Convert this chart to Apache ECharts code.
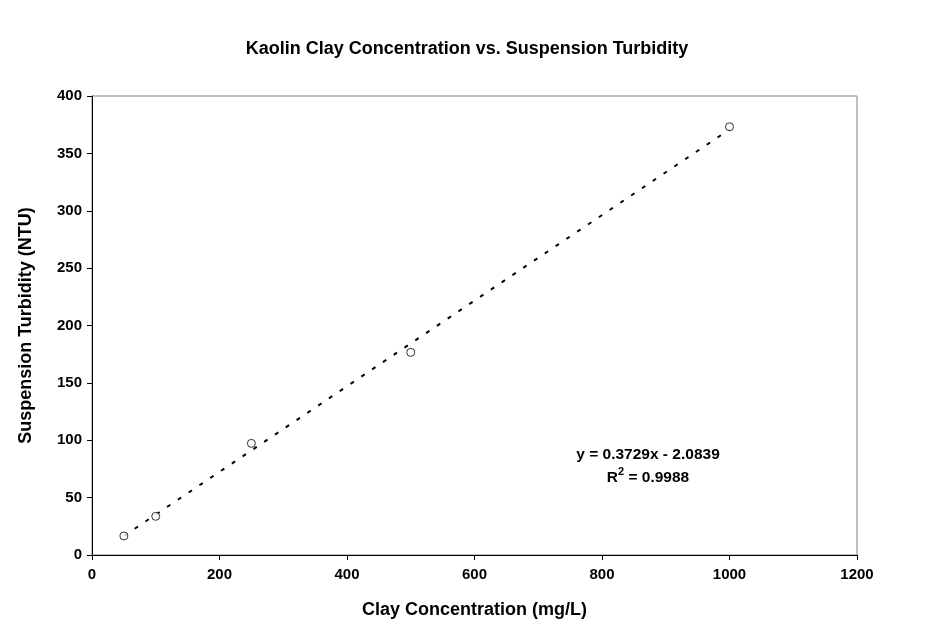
<!DOCTYPE html>
<html>
<head>
<meta charset="utf-8">
<script src="https://cdn.jsdelivr.net/npm/echarts@6/dist/echarts.min.js"></script>
<style>
html,body{margin:0;padding:0;background:#fff;}
#c{width:934px;height:641px;}
</style>
</head>
<body>
<div id="c"></div>
<script>
var clayConc = [50, 100, 250, 500, 1000];
var turbidity = [16.6, 33.7, 97.3, 176.6, 373.2];
var trendSlope = 0.3729;
var trendIntercept = -2.0839;
var trendRange = [50, 1000];
var equationLines = ['y = 0.3729x - 2.0839', 'R{sup|2} = 0.9988'];

var pts = clayConc.map(function(x, i){ return [x, turbidity[i]]; });
var trend = trendRange.map(function(x){ return [x, trendSlope * x + trendIntercept]; });

var chart = echarts.init(document.getElementById('c'));
var F = '"Liberation Sans", Arial, sans-serif';
chart.setOption({
  animation: false,
  backgroundColor: '#fff',
  title: {
    text: 'Kaolin Clay Concentration vs. Suspension Turbidity',
    left: 'center', top: 35,
    textStyle: {fontFamily: F, fontSize: 18, fontWeight: 'bold', color: '#000'}
  },
  grid: {left: 92, right: 77, top: 96, bottom: 86, show: true, borderColor: '#808080', borderWidth: 1},
  xAxis: {
    type: 'value', min: 0, max: 1200, interval: 200,
    name: 'Clay Concentration (mg/L)', nameLocation: 'middle', nameGap: 46,
    nameTextStyle: {fontFamily: F, fontSize: 18, fontWeight: 'bold', color: '#000'},
    axisLine: {show: true, onZero: false, lineStyle: {color: '#000', width: 1}},
    axisTick: {show: true, length: 5, lineStyle: {color: '#000'}},
    axisLabel: {fontFamily: F, fontSize: 15, fontWeight: 'bold', color: '#000', margin: 12,
      formatter: function(v){ return String(v); }},
    splitLine: {show: false}
  },
  yAxis: {
    type: 'value', min: 0, max: 400, interval: 50,
    name: 'Suspension Turbidity (NTU)', nameLocation: 'middle', nameGap: 57,
    nameTextStyle: {fontFamily: F, fontSize: 18, fontWeight: 'bold', color: '#000'},
    axisLine: {show: true, lineStyle: {color: '#000', width: 1}},
    axisTick: {show: true, length: 5, lineStyle: {color: '#000'}},
    axisLabel: {fontFamily: F, fontSize: 15, fontWeight: 'bold', color: '#000', margin: 10,
      formatter: function(v){ return String(v); }},
    splitLine: {show: false}
  },
  graphic: [{
    type: 'text', x: 648, y: 443,
    style: {
      text: equationLines.join('\n'),
      align: 'center',
      fontFamily: F, fontSize: 15.5, fontWeight: 'bold', fill: '#000', lineHeight: 23,
      rich: {sup: {fontSize: 11, fontWeight: 'bold', verticalAlign: 'top', lineHeight: 14, fontFamily: F}}
    }
  }],
  series: [
    {
      type: 'line', data: trend, symbol: 'none',
      lineStyle: {color: '#000', width: 2, type: [4, 9]}, z: 1
    },
    {
      type: 'scatter', data: pts, symbol: 'circle', symbolSize: 8,
      itemStyle: {color: '#fff', borderColor: '#000', borderWidth: 1}, z: 3
    }
  ]
});
</script>
</body>
</html>
